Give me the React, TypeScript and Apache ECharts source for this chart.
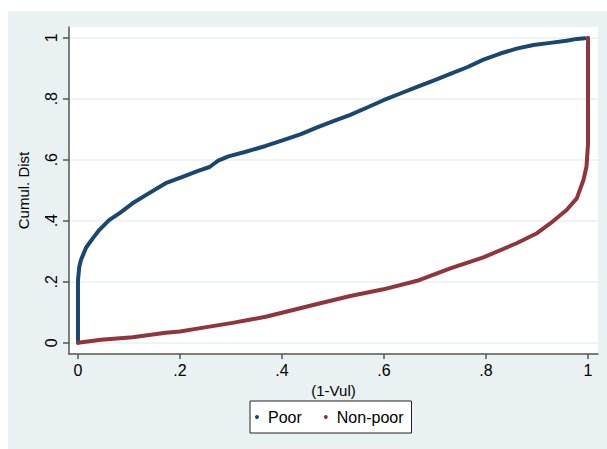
import React, { useEffect, useRef } from "react";
import * as echarts from "echarts";

// Tick positions and labels
const xTickValues = [0, 0.2, 0.4, 0.6, 0.8, 1];
const xTickLabels = ["0", ".2", ".4", ".6", ".8", "1"];
const yTickValues = [0, 0.2, 0.4, 0.6, 0.8, 1];
const yTickLabels = ["0", ".2", ".4", ".6", ".8", "1"];

const seriesNames = ["Poor", "Non-poor"];

// Poor: [1-Vul, cumulative distribution]
const poorData: [number, number][] = [
  [0, 0], [0, 0.205], [0.0026, 0.249], [0.006, 0.272], [0.016, 0.312], [0.029, 0.342],
  [0.042, 0.37], [0.061, 0.402], [0.081, 0.424], [0.107, 0.457], [0.133, 0.484],
  [0.172, 0.523], [0.205, 0.544], [0.237, 0.564], [0.258, 0.576], [0.275, 0.597],
  [0.295, 0.611], [0.329, 0.626], [0.368, 0.645], [0.404, 0.665], [0.436, 0.683],
  [0.469, 0.706], [0.502, 0.727], [0.534, 0.747], [0.567, 0.771], [0.599, 0.795],
  [0.632, 0.817], [0.665, 0.839], [0.697, 0.859], [0.73, 0.881], [0.763, 0.903],
  [0.795, 0.928], [0.828, 0.948], [0.86, 0.964], [0.893, 0.976], [0.926, 0.983],
  [0.958, 0.99], [0.978, 0.996], [0.994, 0.998],
];

// Non-poor: [1-Vul, cumulative distribution]
const nonPoorData: [number, number][] = [
  [0, 0], [0.045, 0.01], [0.107, 0.018], [0.172, 0.033], [0.2, 0.037], [0.237, 0.047],
  [0.303, 0.065], [0.339, 0.076], [0.368, 0.085], [0.404, 0.1], [0.469, 0.127],
  [0.534, 0.153], [0.599, 0.175], [0.665, 0.203], [0.73, 0.244], [0.795, 0.28],
  [0.86, 0.326], [0.9, 0.359], [0.926, 0.391], [0.958, 0.435], [0.978, 0.473],
  [0.991, 0.533], [0.997, 0.577], [1, 0.65], [1, 1],
];

const FONT = "'Liberation Sans', Arial, Helvetica, sans-serif";
const BLUE = "#1a476f";
const RED = "#90353b";
const AXIS = "#555555";

export default function App() {
  const ref = useRef<HTMLDivElement>(null);

  useEffect(() => {
    if (!ref.current) return;
    const chart = echarts.init(ref.current, undefined, { renderer: "svg" });
    const axisLineStyle = { color: AXIS, width: 1.5 };
    chart.setOption({
      animation: false,
      backgroundColor: "#eaf1f3",
      grid: {
        left: 60,
        top: 16,
        width: 530,
        height: 327,
        show: true,
        backgroundColor: "#ffffff",
        borderWidth: 0,
      },
      xAxis: {
        type: "value",
        min: -0.0176,
        max: 1.0196,
        name: "(1-Vul)",
        nameLocation: "middle",
        nameGap: 20,
        nameTextStyle: { fontSize: 15, fontFamily: FONT, color: "#000" },
        axisLine: { show: true, onZero: false, lineStyle: axisLineStyle },
        axisTick: { show: true, customValues: xTickValues, length: 5, lineStyle: axisLineStyle },
        axisLabel: {
          customValues: xTickValues,
          formatter: (v: number) => xTickLabels[xTickValues.indexOf(v)] ?? "",
          margin: 8,
          fontSize: 16,
          fontFamily: FONT,
          color: "#000",
        },
        splitLine: { show: false },
      },
      yAxis: {
        type: "value",
        min: -0.037,
        max: 1.035,
        name: "Cumul. Dist",
        nameLocation: "middle",
        nameGap: 38,
        nameTextStyle: { fontSize: 15, fontFamily: FONT, color: "#000" },
        axisLine: { show: true, onZero: false, lineStyle: axisLineStyle },
        axisTick: { show: true, customValues: yTickValues, length: 6, lineStyle: axisLineStyle },
        axisLabel: {
          customValues: yTickValues,
          formatter: (v: number) => yTickLabels[yTickValues.indexOf(v)] ?? "",
          rotate: 90,
          margin: 10,
          fontSize: 16,
          fontFamily: FONT,
          color: "#000",
        },
        splitLine: { show: true, lineStyle: { color: "#eef4f5", width: 2 } },
      },
      legend: {
        left: 242,
        top: 390,
        orient: "horizontal",
        backgroundColor: "#ffffff",
        borderColor: "#222222",
        borderWidth: 1,
        borderRadius: 0,
        padding: [7, 8, 7, 5],
        itemGap: 22,
        itemWidth: 4,
        itemHeight: 4,
        icon: "circle",
        textStyle: { fontSize: 16, fontFamily: FONT, color: "#000", lineHeight: 18, padding: [0, 0, 0, 4] },
        data: seriesNames,
      },
      series: [
        {
          name: seriesNames[0],
          type: "line",
          data: poorData,
          showSymbol: false,
          symbol: "circle",
          clip: false,
          lineStyle: { color: BLUE, width: 4, cap: "round", join: "round" },
          itemStyle: { color: BLUE },
          z: 3,
        },
        {
          name: seriesNames[1],
          type: "line",
          data: nonPoorData,
          showSymbol: false,
          symbol: "circle",
          clip: false,
          lineStyle: { color: RED, width: 4, cap: "round", join: "round" },
          itemStyle: { color: RED },
          z: 3,
        },
      ],
    });
    return () => chart.dispose();
  }, []);

  return (
    <div
      ref={ref}
      style={{ position: "absolute", left: 8, top: 11, width: 599, height: 438 }}
    />
  );
}
